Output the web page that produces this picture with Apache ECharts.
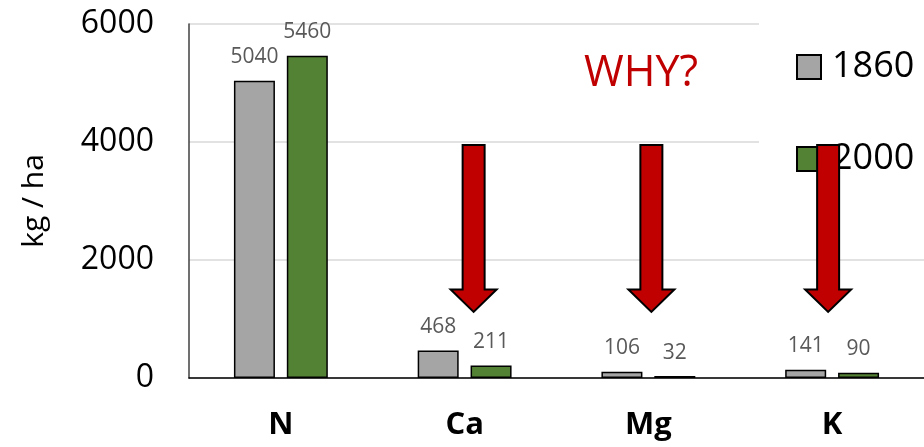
<!DOCTYPE html>
<html>
<head>
<meta charset="utf-8">
<script src="https://cdn.jsdelivr.net/npm/echarts@6/dist/echarts.min.js"></script>
<style>
html,body{margin:0;padding:0;background:#fff;}
#c{width:924px;height:447px;}
</style>
</head>
<body>
<div id="c"></div>
<script>
var categories = ['N', 'Ca', 'Mg', 'K'];
var values1860 = [5040, 468, 106, 141];
var values2000 = [5460, 211, 32, 90];
var yTicks = [0, 2000, 4000, 6000];
var arrowCategories = ['Ca', 'Mg', 'K'];

var FONT = '"Open Sans", "Noto Sans", sans-serif';
var chart = echarts.init(document.getElementById('c'));

var labelCfg = {
  show: true, position: 'top', distance: 13,
  color: '#595959', fontSize: 21, fontFamily: FONT
};

chart.setOption({
  animation: false,
  backgroundColor: '#fff',
  grid: { left: 189, top: 24, width: 744, bottom: 69, containLabel: false },
  legend: {
    orient: 'vertical',
    left: 759, top: 0,
    padding: [49, 10, 20, 37],
    backgroundColor: '#fff',
    itemWidth: 24, itemHeight: 24, itemGap: 56,
    icon: 'rect',
    textStyle: { fontSize: 36, lineHeight: 36, color: '#000', fontFamily: FONT, padding: [0, 0, 0, 6] },
    data: ['1860', '2000']
  },
  xAxis: {
    type: 'category',
    data: categories,
    axisLine: { show: true, lineStyle: { color: '#000', width: 1.5 } },
    axisTick: { show: false },
    axisLabel: { margin: 32, fontSize: 31, fontWeight: 'bold', color: '#000', fontFamily: FONT }
  },
  yAxis: {
    type: 'value',
    min: 0, max: 6000, interval: 2000,
    name: 'kg / ha',
    nameLocation: 'middle',
    nameRotate: 90,
    nameGap: 140,
    nameTextStyle: { fontSize: 30, color: '#000', fontFamily: FONT },
    axisLine: { show: true, lineStyle: { color: '#404040', width: 1.5 } },
    axisTick: { show: false },
    axisLabel: {
      margin: 35, fontSize: 32, color: '#000', fontFamily: FONT,
      formatter: function (v) { return yTicks.indexOf(v) >= 0 ? String(v) : ''; }
    },
    splitLine: { show: true, lineStyle: { color: '#d9d9d9', width: 1.5 } }
  },
  series: [
    {
      name: '1860', type: 'bar', data: values1860,
      barWidth: 41, barGap: '29%',
      itemStyle: { color: '#a5a5a5', borderColor: '#000', borderWidth: 1.5 },
      label: labelCfg
    },
    {
      name: '2000', type: 'bar', data: values2000,
      barWidth: 41,
      itemStyle: { color: '#548235', borderColor: '#000', borderWidth: 1.5 },
      label: labelCfg
    }
  ]
});

// Annotations: "WHY?" text and red downward arrows
var offsets = { 'Ca': 9, 'Mg': 3, 'K': -4 };
var yTop = chart.convertToPixel({ yAxisIndex: 0 }, 3950);
var yHead = chart.convertToPixel({ yAxisIndex: 0 }, 1500);
var yTip = chart.convertToPixel({ yAxisIndex: 0 }, 1120);
var graphics = [];
arrowCategories.forEach(function (c) {
  var cx = chart.convertToPixel({ xAxisIndex: 0 }, c) + offsets[c];
  graphics.push({
    type: 'polygon', z: 100,
    shape: { points: [
      [cx - 11, yTop], [cx + 11, yTop], [cx + 11, yHead], [cx + 23, yHead],
      [cx, yTip], [cx - 23, yHead], [cx - 11, yHead]
    ] },
    style: { fill: '#c00000', stroke: '#000', lineWidth: 2 }
  });
});
graphics.push({
  type: 'text', z: 100, left: 584, top: 52,
  style: { text: 'WHY?', fill: '#c00000', fontSize: 43, fontFamily: FONT }
});
chart.setOption({ graphic: graphics });
</script>
</body>
</html>
